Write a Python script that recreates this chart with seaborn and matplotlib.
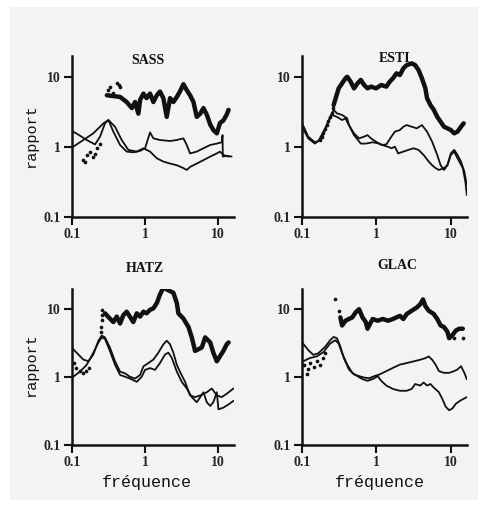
import matplotlib
matplotlib.use("Agg")
import matplotlib.pyplot as plt
import seaborn as sns
import pandas as pd
from matplotlib.patches import Rectangle

# ---- SASS ----
sass_f_thick = [0.30, 0.455, 0.56, 0.66, 0.73, 0.81, 0.855, 0.95, 1.05, 1.17, 1.30, 1.45, 1.60, 1.78, 1.98, 2.2, 2.44,
                2.72, 3.0, 3.35, 3.72, 4.13, 4.6, 5.1, 5.7, 6.3, 7.0, 7.8, 8.6, 9.6, 10.6, 11.8, 13.1, 13.9]
sass_v_thick = [5.5, 5.2, 4.4, 3.6, 4.4, 3.0, 4.7, 5.8, 5.0, 5.8, 4.4, 5.5, 6.2, 5.0, 2.7, 5.0, 4.4,
                5.2, 6.2, 7.9, 6.5, 5.5, 4.4, 2.7, 3.0, 3.6, 2.9, 2.1, 1.75, 1.57, 2.2, 2.4, 2.9, 3.4]
sass_f_a = [0.104, 0.129, 0.159, 0.207, 0.242, 0.283, 0.315, 0.368, 0.455, 0.56, 0.69, 0.855, 1.0, 1.17, 1.30, 1.60,
            2.2, 2.72, 3.35, 3.72, 4.13, 5.1, 6.3, 7.8, 9.6, 11.2, 11.5, 11.6, 13.1, 15.3]
sass_v_a = [1.66, 1.45, 1.26, 1.09, 1.41, 2.18, 2.43, 1.66, 1.07, 0.86, 0.84, 0.88, 0.96, 1.62, 1.33, 1.26,
            1.22, 1.26, 1.33, 1.07, 0.81, 0.86, 0.96, 1.07, 1.12, 1.17, 1.48, 0.73, 0.75, 0.73]
sass_f_b = [0.104, 0.143, 0.196, 0.269, 0.315, 0.388, 0.479, 0.59, 0.77, 0.95, 1.17, 1.45, 1.78, 2.2, 2.72, 3.35,
            3.72, 4.13, 5.1, 6.3, 7.8, 9.6, 10.6, 11.8, 13.9]
sass_v_b = [1.01, 1.26, 1.57, 2.18, 2.43, 1.95, 1.26, 0.91, 0.86, 0.96, 0.86, 0.69, 0.62, 0.58, 0.55, 0.50,
            0.47, 0.52, 0.58, 0.65, 0.73, 0.81, 0.86, 0.77, 0.73]
sass_f_dots = [0.143, 0.15, 0.159, 0.177, 0.196, 0.205, 0.218, 0.242, 0.31, 0.33, 0.36, 0.41, 0.44, 0.455]
sass_v_dots = [0.65, 0.62, 0.77, 0.86, 0.73, 0.80, 0.96, 1.1, 6.5, 7.3, 6.0, 8.1, 7.6, 7.3]

# ---- ESTI ----
esti_f_thick = [0.266, 0.311, 0.384, 0.405, 0.45, 0.50, 0.555, 0.617, 0.685, 0.76, 0.845, 0.99, 1.16, 1.36, 1.51,
                1.67, 1.86, 2.07, 2.30, 2.55, 2.98, 3.32, 3.68, 4.09, 4.55, 4.79, 5.32, 5.91, 6.57, 7.29, 8.1,
                9.0, 10.0, 11.1, 12.3, 13.7, 14.9]
esti_v_thick = [3.98, 6.9, 9.6, 10.1, 8.6, 6.9, 8.1, 9.1, 7.7, 6.9, 7.3, 6.9, 7.7, 7.3, 8.6,
                9.6, 11.3, 10.7, 13.3, 14.8, 15.7, 14.8, 12.6, 9.6, 6.9, 5.0, 3.98, 3.4, 2.7, 2.3, 1.95,
                1.85, 1.75, 1.57, 1.66, 1.95, 2.18]
esti_f_a = [0.103, 0.121, 0.149, 0.166, 0.205, 0.239, 0.266, 0.295, 0.346, 0.405, 0.427, 0.50, 0.585, 0.685,
            0.76, 0.845, 0.99, 1.16, 1.36, 1.59, 1.77, 2.07, 2.30, 2.55, 2.98, 3.49, 4.09, 4.79, 5.61, 6.57,
            7.29, 8.1, 9.0, 10.0, 11.1, 12.3, 14.5, 15.7, 16.4]
esti_v_a = [2.06, 1.41, 1.17, 1.22, 1.85, 2.7, 3.4, 3.03, 2.87, 2.57, 2.06, 1.57, 1.33, 1.41,
            1.48, 1.33, 1.19, 1.07, 1.09, 1.41, 1.66, 1.75, 1.95, 2.06, 1.95, 1.85, 2.06, 1.66, 1.19, 0.77,
            0.55, 0.47, 0.55, 0.77, 0.86, 0.69, 0.50, 0.32, 0.206]
esti_f_b = [0.103, 0.121, 0.149, 0.184, 0.227, 0.252, 0.295, 0.346, 0.384, 0.427, 0.50, 0.617, 0.72, 0.89,
            1.10, 1.29, 1.43, 1.59, 1.77, 1.96, 2.30, 2.69, 3.15, 3.68, 4.31, 5.05, 5.61, 6.23, 6.92, 8.1,
            9.0, 10.0, 11.1, 12.3, 13.7, 15.2, 16.4]
esti_v_b = [1.85, 1.33, 1.12, 1.33, 2.30, 2.87, 2.7, 2.43, 2.57, 2.06, 1.48, 1.12, 1.12, 1.17,
            1.12, 1.04, 1.01, 0.96, 1.01, 0.81, 0.86, 0.91, 0.96, 0.91, 0.77, 0.62, 0.55, 0.50, 0.47, 0.50,
            0.55, 0.81, 0.91, 0.77, 0.62, 0.445, 0.286]
esti_f_dots = [0.177, 0.185, 0.194, 0.205, 0.215, 0.227, 0.239, 0.25, 0.26]
esti_v_dots = [1.26, 1.4, 1.57, 1.8, 2.06, 2.35, 2.7, 3.1, 3.6]

# ---- HATZ ----
hatz_f_thick = [0.283, 0.33, 0.368, 0.41, 0.455, 0.505, 0.56, 0.62, 0.69, 0.77, 0.855, 0.95, 1.05, 1.17, 1.30,
                1.45, 1.60, 1.78, 1.98, 2.2, 2.44, 2.72, 2.86, 3.35, 3.93, 4.36, 4.84, 5.38, 5.98, 6.65, 7.8,
                8.6, 9.6, 10.6, 11.8, 13.1, 13.9]
hatz_v_thick = [8.6, 7.2, 6.4, 7.7, 6.1, 8.1, 9.1, 7.7, 6.4, 8.6, 7.7, 9.1, 8.6, 9.7, 10.2,
                12.2, 16.3, 20.6, 19.4, 18.3, 17.3, 12.2, 8.6, 7.2, 5.4, 3.8, 2.4, 2.54, 2.7, 3.8, 3.2,
                2.26, 1.69, 2.0, 2.4, 3.0, 3.2]
hatz_f_a = [0.104, 0.143, 0.168, 0.196, 0.23, 0.255, 0.283, 0.33, 0.388, 0.455, 0.532, 0.62, 0.73, 0.855,
            0.95, 1.11, 1.30, 1.52, 1.78, 1.98, 2.2, 2.44, 2.72, 3.0, 3.53, 4.13, 4.84, 5.7, 7.0, 8.2,
            9.6, 11.2, 13.1, 16.2]
hatz_v_a = [2.54, 1.79, 1.69, 2.13, 3.4, 4.04, 3.8, 2.7, 1.69, 1.19, 1.12, 1.0, 0.94, 1.06,
            1.42, 1.59, 1.79, 2.26, 3.0, 3.4, 3.0, 2.26, 1.50, 1.19, 0.84, 0.53, 0.50, 0.53, 0.59, 0.67,
            0.53, 0.50, 0.56, 0.67]
hatz_f_b = [0.104, 0.129, 0.159, 0.196, 0.23, 0.255, 0.283, 0.33, 0.388, 0.455, 0.532, 0.62, 0.77, 0.90,
            1.0, 1.17, 1.37, 1.60, 1.88, 2.09, 2.32, 2.72, 3.18, 3.72, 4.36, 5.1, 5.7, 6.3, 7.0, 7.8,
            8.6, 9.6, 10.1, 11.8, 13.9, 16.2]
hatz_v_b = [1.0, 1.19, 1.50, 2.26, 3.2, 3.8, 3.6, 2.4, 1.50, 1.06, 1.0, 0.94, 0.84, 1.0,
            1.26, 1.34, 1.26, 1.59, 2.13, 2.26, 1.90, 1.19, 0.84, 0.67, 0.50, 0.42, 0.50, 0.59, 0.42, 0.37,
            0.42, 0.59, 0.33, 0.35, 0.39, 0.44]
hatz_f_dots = [0.105, 0.115, 0.127, 0.14, 0.155, 0.17, 0.25, 0.252, 0.254, 0.255, 0.256]
hatz_v_dots = [1.6, 1.35, 1.2, 1.15, 1.2, 1.35, 4.5, 5.5, 6.8, 8.0, 9.5]

# ---- GLAC ----
glac_f_thick = [0.328, 0.346, 0.384, 0.427, 0.474, 0.526, 0.585, 0.65, 0.72, 0.76, 0.80, 0.89, 1.04, 1.22,
                1.43, 1.67, 1.86, 2.07, 2.30, 2.55, 2.98, 3.49, 3.88, 4.23, 4.55, 5.05, 5.91, 6.57, 7.29,
                8.1, 9.0, 9.5, 10.5, 11.7, 13.0, 14.5]
glac_v_thick = [7.5, 5.7, 6.7, 7.1, 7.5, 8.9, 9.9, 7.5, 6.4, 5.1, 5.7, 7.1, 6.7, 7.1,
                6.7, 7.1, 7.5, 7.9, 7.1, 8.4, 9.4, 10.5, 11.7, 13.8, 11.0, 9.4, 8.4, 7.1, 5.7,
                5.4, 4.6, 3.7, 4.1, 4.8, 5.1, 5.1]
glac_f_a = [0.103, 0.121, 0.142, 0.166, 0.205, 0.239, 0.266, 0.295, 0.328, 0.365, 0.427, 0.50, 0.585, 0.685,
            0.80, 0.94, 1.10, 1.36, 1.67, 2.07, 2.55, 3.15, 3.88, 4.55, 5.05, 5.61, 6.23, 6.92, 8.1,
            9.5, 11.1, 12.3, 13.7, 15.2, 16.4]
glac_v_a = [3.09, 2.48, 2.1, 2.22, 2.77, 3.45, 3.86, 3.7, 2.77, 1.88, 1.28, 1.08, 1.02, 0.97,
            0.95, 1.02, 1.08, 1.21, 1.35, 1.51, 1.59, 1.68, 1.78, 1.88, 1.99, 1.78, 1.51, 1.21, 1.14,
            1.14, 1.21, 1.28, 1.43, 1.14, 0.92]
glac_f_b = [0.103, 0.127, 0.157, 0.194, 0.239, 0.28, 0.311, 0.346, 0.405, 0.474, 0.555, 0.65, 0.76, 0.89,
            1.04, 1.16, 1.36, 1.67, 2.07, 2.55, 2.98, 3.32, 3.88, 4.31, 4.79, 5.32, 5.91, 6.92, 7.69,
            8.55, 9.5, 10.5, 11.7, 13.7, 16.4]
glac_v_b = [1.68, 1.88, 1.99, 2.3, 3.09, 3.45, 3.09, 2.22, 1.51, 1.14, 1.02, 0.92, 0.87, 0.92,
            1.02, 0.87, 0.74, 0.66, 0.62, 0.62, 0.66, 0.78, 0.74, 0.82, 0.74, 0.78, 0.69, 0.59, 0.47,
            0.36, 0.32, 0.34, 0.40, 0.45, 0.50]
glac_f_dots = [0.108, 0.115, 0.12, 0.13, 0.145, 0.16, 0.175, 0.19, 0.205, 0.28, 0.311, 11.1, 14.5]
glac_v_dots = [1.5, 1.1, 1.3, 1.6, 1.4, 1.7, 1.5, 1.9, 2.2, 13.8, 9.3, 3.7, 3.7]

sns.set_theme(style="ticks")
plt.rcParams["font.family"] = ["Liberation Serif", "DejaVu Serif"]

W, H = 485, 508
fig = plt.figure(figsize=(W / 100, H / 100), dpi=100, facecolor="white")
fig.patches.append(Rectangle((10 / W, 1 - 500 / H), 468 / W, 493 / H, transform=fig.transFigure,
                             facecolor="#f2f3f5", edgecolor="none", zorder=-10))

ink = "#111111"

def panel(rect, title, title_xy, f_thick, v_thick, f_a, v_a, f_b, v_b, f_dots, v_dots):
    ax = fig.add_axes(rect)
    ax.set_facecolor("none")
    for f, v, lw in [(f_a, v_a, 1.3), (f_b, v_b, 1.3), (f_thick, v_thick, 3.2)]:
        d = pd.DataFrame({"f": f, "v": v})
        sns.lineplot(data=d, x="f", y="v", ax=ax, sort=False, estimator=None, color=ink, lw=lw)
    d = pd.DataFrame({"f": f_dots, "v": v_dots})
    sns.scatterplot(data=d, x="f", y="v", ax=ax, color=ink, s=7, linewidth=0)
    ax.set_xscale("log")
    ax.set_yscale("log")
    ax.set_xlim(0.1, 16.5)
    ax.set_ylim(0.1, 20)
    ax.set_xticks([0.1, 1, 10], ["0.1", "1", "10"])
    ax.set_yticks([0.1, 1, 10], ["0.1", "1", "10"])
    ax.minorticks_off()
    ax.tick_params(length=6, width=1.5, color=ink, labelsize=10, pad=2)
    for lab in ax.get_xticklabels() + ax.get_yticklabels():
        lab.set_fontweight("bold")
    for s in ["top", "right"]:
        ax.spines[s].set_visible(False)
    for s in ["left", "bottom"]:
        ax.spines[s].set_linewidth(1.8)
        ax.spines[s].set_color(ink)
    ax.set_xlabel("")
    ax.set_ylabel("")
    ax.text(title_xy[0], title_xy[1], title, transform=ax.transAxes, ha="center", va="center",
            fontsize=10, fontweight="bold", color=ink)
    return ax

left_x, left_w = 72 / W, 162 / W
right_x, right_w = 302 / W, 165 / W
top_y, top_h = 1 - 217 / H, 161 / H
bot_y, bot_h = 1 - 444.5 / H, 156 / H

panel([left_x, top_y, left_w, top_h], "SASS", (0.47, 0.975), sass_f_thick, sass_v_thick,
      sass_f_a, sass_v_a, sass_f_b, sass_v_b, sass_f_dots, sass_v_dots)
panel([right_x, top_y, right_w, top_h], "ESTI", (0.56, 0.985), esti_f_thick, esti_v_thick,
      esti_f_a, esti_v_a, esti_f_b, esti_v_b, esti_f_dots, esti_v_dots)
panel([left_x, bot_y, left_w, bot_h], "HATZ", (0.45, 1.13), hatz_f_thick, hatz_v_thick,
      hatz_f_a, hatz_v_a, hatz_f_b, hatz_v_b, hatz_f_dots, hatz_v_dots)
panel([right_x, bot_y, right_w, bot_h], "GLAC", (0.58, 1.15), glac_f_thick, glac_v_thick,
      glac_f_a, glac_v_a, glac_f_b, glac_v_b, glac_f_dots, glac_v_dots)

mono = ["Liberation Mono", "DejaVu Sans Mono"]
fig.text(31 / W, 1 - 136 / H, "rapport", rotation=90, ha="center", va="center", fontsize=11, family=mono, color=ink)
fig.text(31 / W, 1 - 365 / H, "rapport", rotation=90, ha="center", va="center", fontsize=11, family=mono, color=ink)
fig.text(147 / W, 1 - 482 / H, "fréquence", ha="center", va="center", fontsize=12, family=mono, color=ink)
fig.text(380 / W, 1 - 482 / H, "fréquence", ha="center", va="center", fontsize=12, family=mono, color=ink)

fig.savefig("out.png", dpi=100, facecolor=fig.get_facecolor())
